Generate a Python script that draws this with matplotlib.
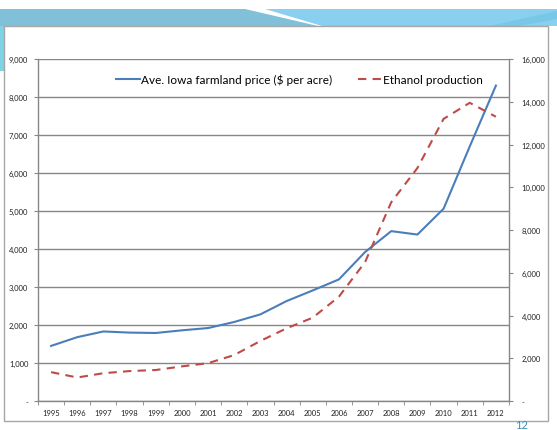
import matplotlib.pyplot as plt
from matplotlib.patches import Polygon, Rectangle
from matplotlib.ticker import FuncFormatter, FixedLocator

plt.rcParams['font.family'] = ['Lato', 'DejaVu Sans']

years = [str(y) for y in range(1995, 2013)]
land_price = [1450, 1680, 1830, 1800, 1790, 1860, 1920, 2080, 2280, 2630,
              2910, 3200, 3920, 4470, 4380, 5060, 6700, 8300]
ethanol = [1350, 1100, 1300, 1400, 1450, 1620, 1770, 2150, 2810, 3400,
           3900, 4880, 6500, 9300, 10900, 13200, 13950, 13300]

W, H = 557, 431
fig = plt.figure(figsize=(W / 100, H / 100), dpi=100)
fig.patch.set_facecolor('white')

# slide background: banner strip, white swoosh, chart frame
bg = fig.add_axes([0, 0, 1, 1])
bg.set_xlim(0, W)
bg.set_ylim(H, 0)
bg.axis('off')
bg.add_patch(Polygon([(0, 10), (245, 10), (318, 27), (0, 27)], closed=True,
                     facecolor='#80c1d9', edgecolor='none'))
bg.add_patch(Polygon([(265, 10), (W, 10), (W, 27), (322, 27)], closed=True,
                     facecolor='#89cff0', edgecolor='none'))
bg.add_patch(Polygon([(490, 27), (W, 12), (W, 20), (520, 27)], closed=True,
                     facecolor='#6cc3e0', edgecolor='none', alpha=0.6))
bg.add_patch(Rectangle((0, 27), 4, 45, facecolor='#7fd3e6', edgecolor='none'))
bg.add_patch(Rectangle((4, 27), 544, 395, facecolor='white',
                       edgecolor='#a6a6a6', linewidth=1.0))
bg.text(522, 426, '12', fontsize=8, color='#3a8fb0', ha='center', va='center')

# chart
ax = fig.add_axes([38 / W, (H - 402) / H, 471 / W, 342 / H])
ax2 = ax.twinx()
x = list(range(len(years)))

l1, = ax.plot(x, land_price, color='#4a7ebb', lw=1.5,
              label='Ave. Iowa farmland price ($ per acre)')
l2, = ax2.plot(x, ethanol, color='#be4b48', lw=1.5, ls=(0, (4, 3)),
               label='Ethanol production')

ax.set_xlim(-0.5, len(years) - 0.5)
ax.set_ylim(0, 9000)
ax2.set_ylim(0, 16000)
ax.set_yticks(range(0, 9001, 1000))
ax2.set_yticks(range(0, 16001, 2000))
ax.grid(axis='y', color='#878787', lw=1.0)
ax.set_axisbelow(True)

fmt = FuncFormatter(lambda v, p: '-' if v == 0 else f'{v:,.0f}')
ax.yaxis.set_major_formatter(fmt)
ax2.yaxis.set_major_formatter(fmt)

ax.set_xticks(x)
ax.set_xticklabels(years)
ax.xaxis.set_minor_locator(FixedLocator([i - 0.5 for i in range(len(years) + 1)]))
ax.tick_params(axis='x', which='major', length=0, pad=6, labelsize=5.5, labelcolor='#222222')
ax.tick_params(axis='x', which='minor', length=3, color='#878787', direction='out')
ax.tick_params(axis='y', length=3, color='#878787', labelsize=5.5, labelcolor='#222222', pad=4)
ax2.tick_params(axis='y', length=3, color='#878787', labelsize=5.5, labelcolor='#222222', pad=6)

for a in (ax, ax2):
    for s in a.spines.values():
        s.set_visible(False)
ax.spines['left'].set_visible(True)
ax.spines['bottom'].set_visible(True)
ax2.spines['right'].set_visible(True)
for s in (ax.spines['left'], ax.spines['bottom'], ax2.spines['right']):
    s.set_color('#878787')
    s.set_linewidth(1.0)
ax.patch.set_alpha(0)

ax.legend(handles=[l1, l2], loc='center', bbox_to_anchor=(0.555, 0.94), ncol=2,
          frameon=False, fontsize=8.5, handlelength=2.0, handletextpad=0.1,
          columnspacing=2.2)

fig.savefig('out.png', dpi=100)
